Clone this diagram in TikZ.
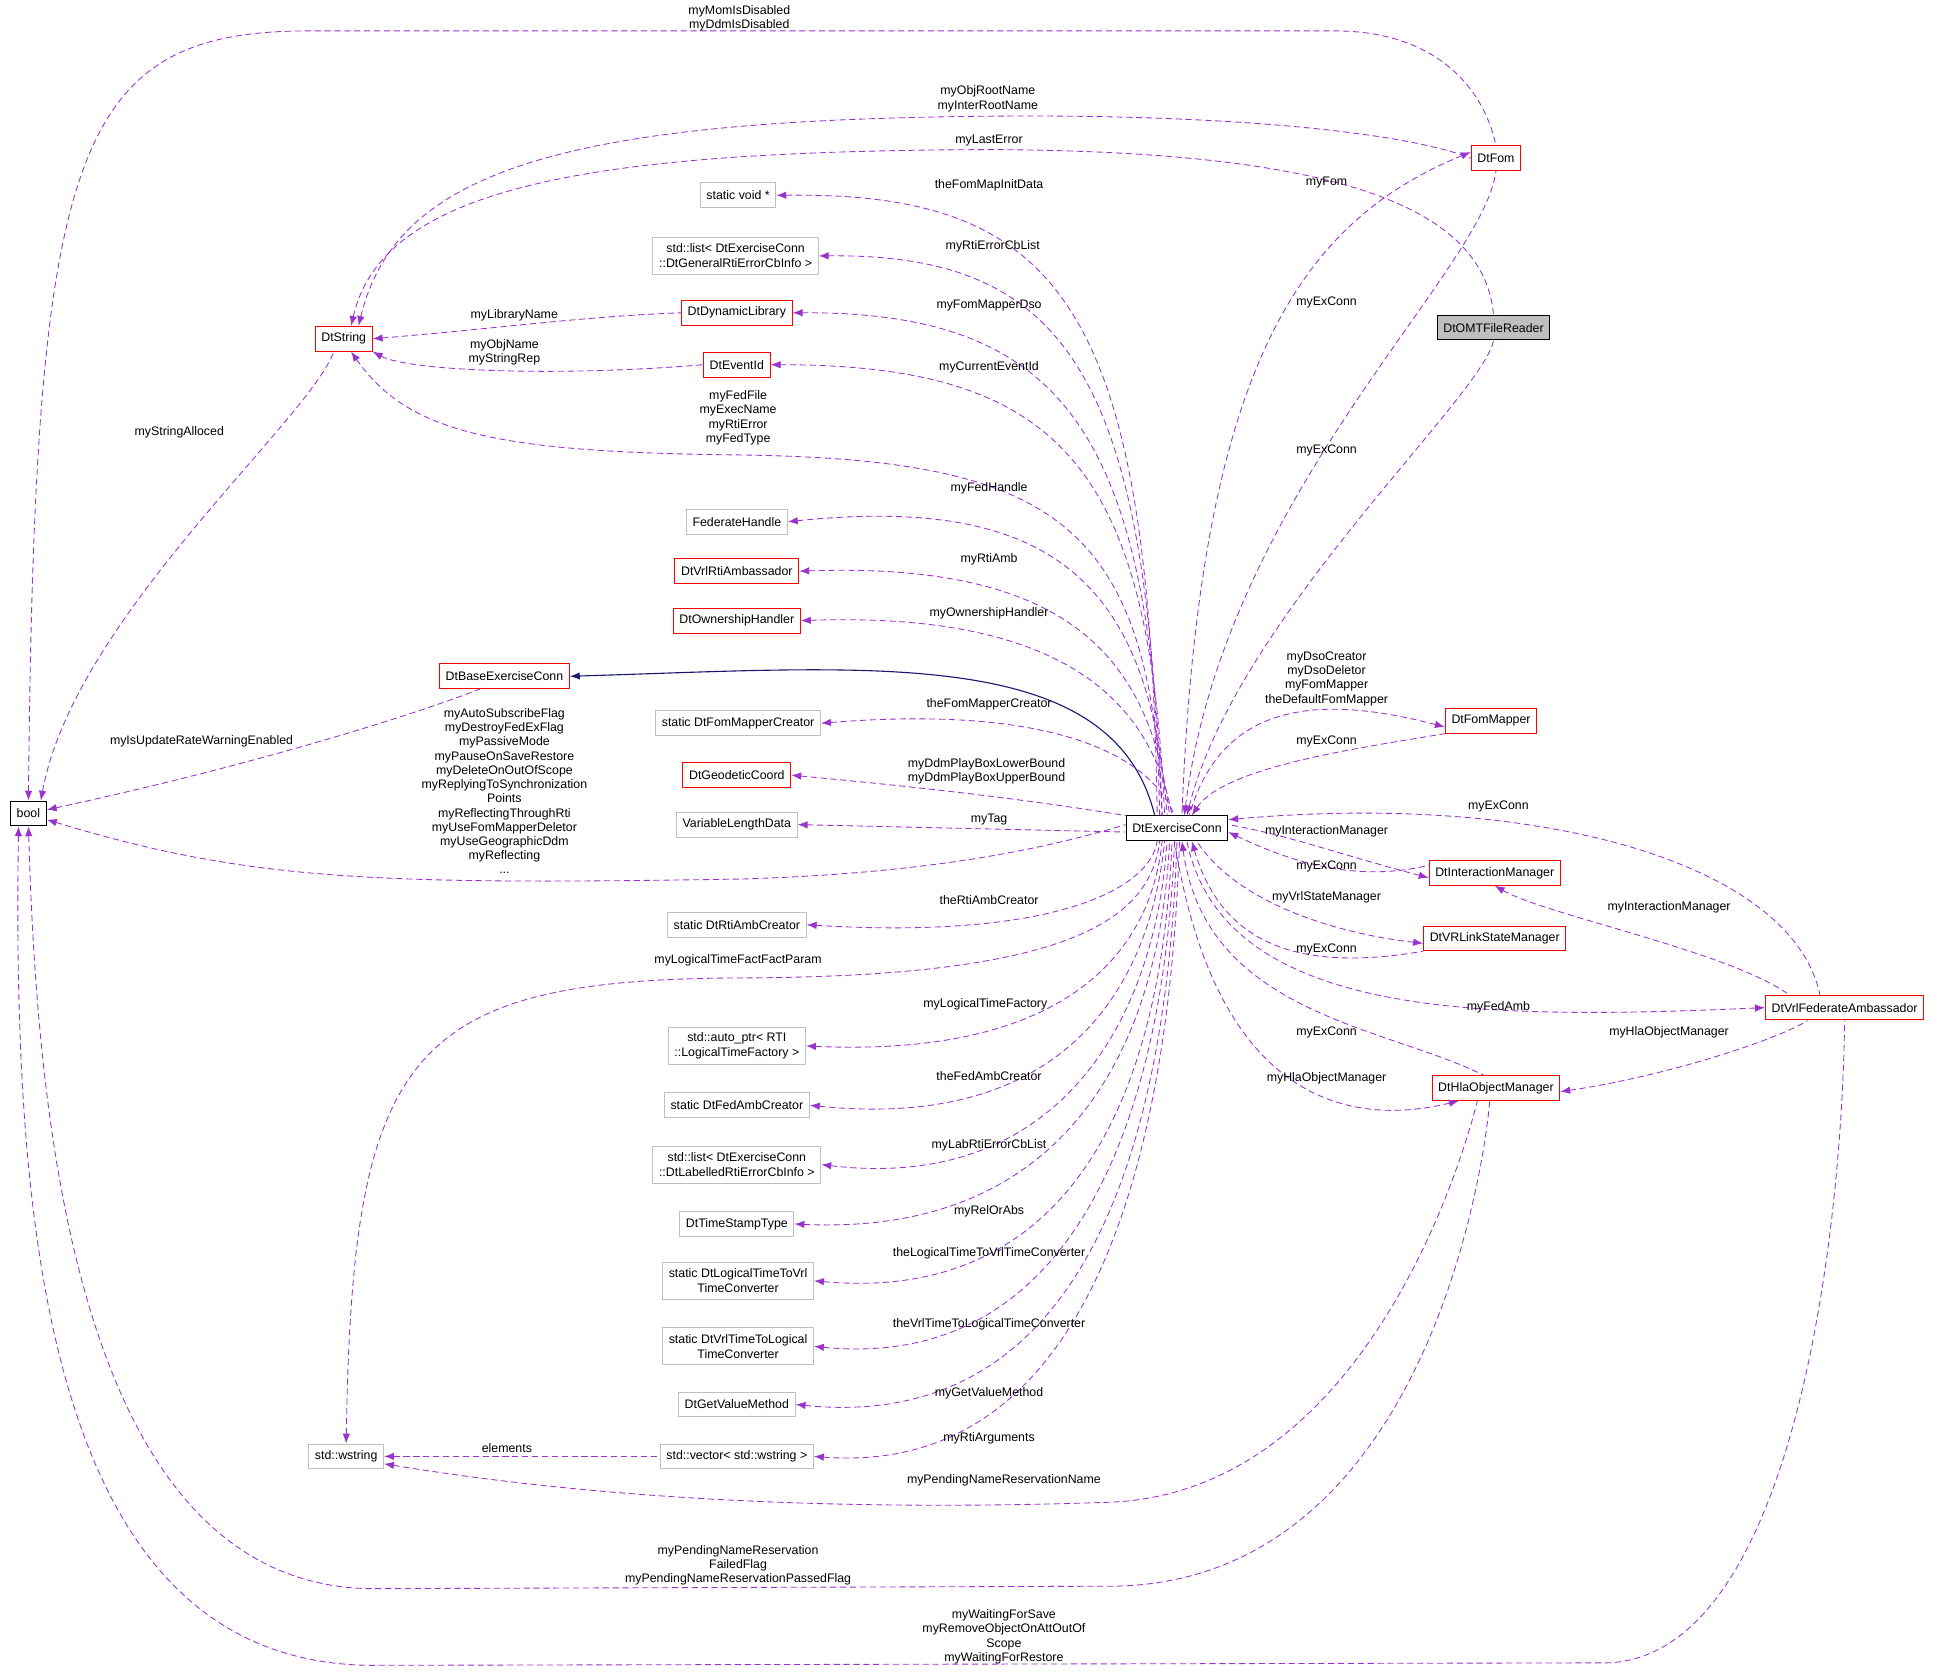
\documentclass[tikz,border=0pt]{standalone}
\usepackage{fontspec}
\setmainfont{Liberation Sans}
\usetikzlibrary{arrows.meta}
\definecolor{pur}{HTML}{9A32CD}
\definecolor{nav}{HTML}{191970}
\definecolor{lg}{HTML}{BFBFBF}
\begin{document}
\begin{tikzpicture}[x=1pt,y=-1pt,
 box/.style={draw,rectangle,minimum height=20pt,inner xsep=5pt,inner ysep=2pt,fill=white,align=center,font=\fontsize{10}{12}\selectfont,line width=0.8pt},
 rb/.style={box,draw=red},
 gb/.style={box,draw=lg},
 bb/.style={box,draw=black},
 lab/.style={inner sep=0pt,align=center,font=\fontsize{10}{11.5}\selectfont},
 e/.style={pur,dashed,dash pattern=on 5pt off 3pt,line width=0.7pt,{Latex[length=8pt,width=6pt]}-},
 s/.style={nav,line width=0.9pt,{Latex[length=8pt,width=6pt]}-}]
\useasboundingbox (0,0) rectangle (1570,1355);
% nodes
\node[bb] (bool) at (23,658) {bool};
\node[rb] (str) at (278,274) {DtString};
\node[bb] (de) at (952,670) {DtExerciseConn};
\node[rb] (fom) at (1210,128) {DtFom};
\node[box,fill=lg] (omt) at (1208,265) {DtOMTFileReader};
\node[gb] (sv) at (597,158) {static void *};
\node[gb,minimum height=30pt] (gl) at (595,207) {std::list< DtExerciseConn\\::DtGeneralRtiErrorCbInfo >};
\node[rb] (dl) at (596,253) {DtDynamicLibrary};
\node[rb] (ev) at (596,295) {DtEventId};
\node[gb] (fh) at (596,422) {FederateHandle};
\node[rb] (vra) at (596,462) {DtVrlRtiAmbassador};
\node[rb] (oh) at (596,502) {DtOwnershipHandler};
\node[rb] (base) at (408,547) {DtBaseExerciseConn};
\node[gb] (fmc) at (597,585) {static DtFomMapperCreator};
\node[rb] (gc) at (596,627) {DtGeodeticCoord};
\node[gb] (vld) at (596,667) {VariableLengthData};
\node[gb] (rac) at (596,748) {static DtRtiAmbCreator};
\node[gb,minimum height=30pt] (ap) at (596,846) {std::auto\_ptr< RTI\\::LogicalTimeFactory >};
\node[gb] (fac) at (596,894) {static DtFedAmbCreator};
\node[gb,minimum height=30pt] (ll) at (596,942) {std::list< DtExerciseConn\\::DtLabelledRtiErrorCbInfo >};
\node[gb] (ts) at (596,990) {DtTimeStampType};
\node[gb,minimum height=30pt] (l2v) at (597,1036) {static DtLogicalTimeToVrl\\TimeConverter};
\node[gb,minimum height=30pt] (v2l) at (597,1089) {static DtVrlTimeToLogical\\TimeConverter};
\node[gb] (gv) at (596,1136) {DtGetValueMethod};
\node[gb] (vec) at (596,1178) {std::vector< std::wstring >};
\node[gb] (ws) at (280,1178) {std::wstring};
\node[rb] (fm) at (1206,583) {DtFomMapper};
\node[rb] (im) at (1209,706) {DtInteractionManager};
\node[rb] (vsm) at (1209,759) {DtVRLinkStateManager};
\node[rb] (fa) at (1492,815) {DtVrlFederateAmbassador};
\node[rb] (hla) at (1210,880) {DtHlaObjectManager};
% edges to bool / DtString
\draw[e] (bool.north) .. controls (28,120) and (60,25) .. (250,25) -- (1080,25) .. controls (1160,25) and (1200,70) .. (fom.north);
\draw[e] ([xshift=12]str.north) .. controls (320,140) and (450,97) .. (800,94) .. controls (1000,92) and (1140,108) .. (fom.west);
\draw[e] ([xshift=6]str.north) .. controls (310,150) and (480,122) .. (800,121) .. controls (1060,122) and (1200,160) .. (omt.north);
\draw[e] (str.east) .. controls (400,266) and (470,256) .. (dl.west);
\draw[e] (str.south east) .. controls (330,300) and (450,305) .. (ev.west);
\draw[e] ([xshift=6]str.south) .. controls (330,350) and (400,366) .. (600,368) .. controls (850,372) and (930,420) .. ([xshift=-12]de.north);
\draw[e] ([xshift=10]bool.north) .. controls (60,500) and (250,340) .. ([xshift=-8]str.south);
\draw[e] ([yshift=3]bool.east) .. controls (200,620) and (330,580) .. ([xshift=-20]base.south);
\draw[e] ([yshift=-5]bool.east) .. controls (200,712) and (300,716) .. (600,711) .. controls (760,706) and (850,685) .. ([yshift=3]de.west);
\draw[e] (bool.south) .. controls (30,900) and (60,1282) .. (300,1285) -- (900,1283) .. controls (1150,1280) and (1200,950) .. ([xshift=-5]hla.south);
\draw[e] ([xshift=-8]bool.south) .. controls (10,1000) and (40,1345) .. (300,1347) -- (1300,1345) .. controls (1450,1340) and (1490,1000) .. (fa.south);
% left fan from de
\draw[e] (sv.east) .. controls (860,155) and (930,250) .. ([xshift=-16]de.north);
\draw[e] (gl.east) .. controls (860,205) and (930,300) .. ([xshift=-14]de.north);
\draw[e] (dl.east) .. controls (860,252) and (930,350) .. ([xshift=-12]de.north);
\draw[e] (ev.east) .. controls (860,295) and (930,380) .. ([xshift=-10]de.north);
\draw[e] (fh.east) .. controls (850,400) and (930,470) .. ([xshift=-8]de.north);
\draw[e] (vra.east) .. controls (850,455) and (930,520) .. ([xshift=-6]de.north);
\draw[e] (oh.east) .. controls (850,495) and (930,560) .. ([xshift=-4]de.north);
\draw[s] (base.east) .. controls (700,540) and (900,520) .. ([xshift=-18]de.north);
\draw[e] (fmc.east) .. controls (850,570) and (930,610) .. ([xshift=-2]de.north);
\draw[e] (gc.east) .. controls (780,640) and (850,650) .. (de.north west);
\draw[e] (vld.east) -- ([yshift=-3]de.west);
\draw[e] (rac.east) .. controls (850,760) and (930,720) .. ([xshift=-16]de.south);
\draw[e] (ws.north) .. controls (285,850) and (330,792) .. (600,791) .. controls (850,790) and (930,750) .. ([xshift=-14]de.south);
\draw[e] (ap.east) .. controls (850,855) and (930,780) .. ([xshift=-12]de.south);
\draw[e] (fac.east) .. controls (860,915) and (930,800) .. ([xshift=-10]de.south);
\draw[e] (ll.east) .. controls (860,965) and (935,820) .. ([xshift=-8]de.south);
\draw[e] (ts.east) .. controls (860,1000) and (938,850) .. ([xshift=-6]de.south);
\draw[e] (l2v.east) .. controls (870,1055) and (940,880) .. ([xshift=-4]de.south);
\draw[e] (v2l.east) .. controls (870,1110) and (942,900) .. ([xshift=-2]de.south);
\draw[e] (gv.east) .. controls (880,1160) and (944,920) .. (de.south);
\draw[e] (vec.east) .. controls (880,1195) and (946,940) .. ([xshift=2]de.south);
\draw[e] (ws.east) -- (vec.west);
\draw[e] ([yshift=-6]ws.east) .. controls (500,1215) and (700,1222) .. (900,1215) .. controls (1100,1205) and (1180,950) .. ([xshift=-15]hla.south);
% right side
\draw[e] ([yshift=5]fom.west) .. controls (1050,180) and (970,300) .. ([xshift=4]de.north);
\draw[e] ([xshift=6]de.north) .. controls (990,400) and (1200,220) .. (fom.south);
\draw[e] ([xshift=8]de.north) .. controls (1000,500) and (1200,320) .. (omt.south);
\draw[e] ([yshift=-5]fm.west) .. controls (1080,565) and (990,560) .. ([xshift=10]de.north);
\draw[e] ([xshift=12]de.north) .. controls (990,620) and (1100,605) .. (fm.south west);
\draw[e] ([yshift=-4]im.west) .. controls (1080,690) and (1040,675) .. ([yshift=3]de.east);
\draw[e] ([yshift=-3]de.east) .. controls (1050,700) and (1100,713) .. ([yshift=6]im.west);
\draw[e] ([yshift=-4]vsm.west) .. controls (1080,755) and (1000,730) .. ([xshift=16]de.south);
\draw[e] ([xshift=12]de.south) .. controls (990,770) and (1060,785) .. (vsm.south west);
\draw[e] (fa.west) .. controls (1200,825) and (990,825) .. ([xshift=8]de.south);
\draw[e] ([yshift=7]de.east) .. controls (1250,640) and (1450,700) .. ([xshift=-20]fa.north);
\draw[e] (im.south) .. controls (1250,740) and (1400,770) .. ([xshift=-45]fa.north);
\draw[e] ([yshift=-3]hla.east) .. controls (1350,870) and (1440,840) .. ([xshift=-30]fa.south);
\draw[e] ([xshift=4]de.south) .. controls (975,820) and (1120,830) .. ([xshift=-10]hla.north);
\draw[e] ([xshift=-30]hla.south) .. controls (1100,910) and (985,900) .. ([xshift=-2]de.south);
% labels
\node[lab] (l1) at (598,15) {myMomIsDisabled\\myDdmIsDisabled};
\node[lab] (l2) at (799,80) {myObjRootName\\myInterRootName};
\node[lab] (l3) at (800,114) {myLastError};
\node[lab] (l4) at (800,150) {theFomMapInitData};
\node[lab] (l5) at (803,199) {myRtiErrorCbList};
\node[lab] (l6) at (800,247) {myFomMapperDso};
\node[lab] (l7) at (416,255) {myLibraryName};
\node[lab] (l8) at (408,285) {myObjName\\myStringRep};
\node[lab] (l9) at (800,297) {myCurrentEventId};
\node[lab] (l10) at (597,338) {myFedFile\\myExecName\\myRtiError\\myFedType};
\node[lab] (l11) at (145,350) {myStringAlloced};
\node[lab] (l12) at (800,395) {myFedHandle};
\node[lab] (l13) at (800,452) {myRtiAmb};
\node[lab] (l14) at (800,496) {myOwnershipHandler};
\node[lab] (l15) at (800,570) {theFomMapperCreator};
\node[lab] (l16) at (163,600) {myIsUpdateRateWarningEnabled};
\node[lab] (l17) at (798,624) {myDdmPlayBoxLowerBound\\myDdmPlayBoxUpperBound};
\node[lab] (l18) at (800,663) {myTag};
\node[lab] (l19) at (408,640) {myAutoSubscribeFlag\\myDestroyFedExFlag\\myPassiveMode\\myPauseOnSaveRestore\\myDeleteOnOutOfScope\\myReplyingToSynchronization\\Points\\myReflectingThroughRti\\myUseFomMapperDeletor\\myUseGeographicDdm\\myReflecting\\...};
\node[lab] (l20) at (800,728) {theRtiAmbCreator};
\node[lab] (l21) at (597,777) {myLogicalTimeFactFactParam};
\node[lab] (l22) at (797,812) {myLogicalTimeFactory};
\node[lab] (l23) at (800,870) {theFedAmbCreator};
\node[lab] (l24) at (800,926) {myLabRtiErrorCbList};
\node[lab] (l25) at (800,980) {myRelOrAbs};
\node[lab] (l26) at (800,1014) {theLogicalTimeToVrlTimeConverter};
\node[lab] (l27) at (800,1071) {theVrlTimeToLogicalTimeConverter};
\node[lab] (l28) at (800,1127) {myGetValueMethod};
\node[lab] (l29) at (800,1163) {myRtiArguments};
\node[lab] (l30) at (410,1171) {elements};
\node[lab] (l31) at (812,1197) {myPendingNameReservationName};
\node[lab] (l32) at (597,1266) {myPendingNameReservation\\FailedFlag\\myPendingNameReservationPassedFlag};
\node[lab] (l33) at (812,1324) {myWaitingForSave\\myRemoveObjectOnAttOutOf\\Scope\\myWaitingForRestore};
\node[lab] (l34) at (1073,148) {myFom};
\node[lab] (l35) at (1073,245) {myExConn};
\node[lab] (l36) at (1073,364) {myExConn};
\node[lab] (l37) at (1073,549) {myDsoCreator\\myDsoDeletor\\myFomMapper\\theDefaultFomMapper};
\node[lab] (l38) at (1073,600) {myExConn};
\node[lab] (l39) at (1073,672) {myInteractionManager};
\node[lab] (l40) at (1073,701) {myExConn};
\node[lab] (l41) at (1073,726) {myVrlStateManager};
\node[lab] (l42) at (1073,768) {myExConn};
\node[lab] (l43) at (1212,815) {myFedAmb};
\node[lab] (l44) at (1212,652) {myExConn};
\node[lab] (l45) at (1350,734) {myInteractionManager};
\node[lab] (l46) at (1350,835) {myHlaObjectManager};
\node[lab] (l47) at (1073,835) {myExConn};
\node[lab] (l48) at (1073,872) {myHlaObjectManager};
\end{tikzpicture}
\end{document}
